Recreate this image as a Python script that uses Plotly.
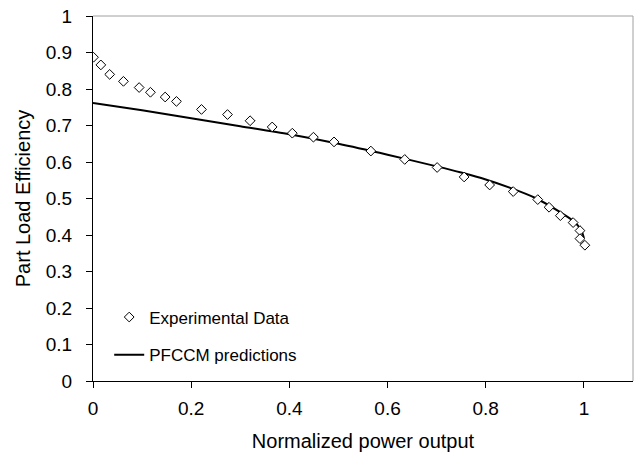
import plotly.graph_objects as go

# Experimental data (normalized power output, part load efficiency)
exp_x = [0.001, 0.016, 0.034, 0.062, 0.094, 0.117, 0.147, 0.170, 0.221, 0.274,
         0.320, 0.365, 0.406, 0.449, 0.491, 0.566, 0.635, 0.701, 0.756, 0.808,
         0.856, 0.906, 0.929, 0.952, 0.978, 0.992, 0.992, 1.002]
exp_y = [0.887, 0.866, 0.840, 0.821, 0.804, 0.791, 0.778, 0.766, 0.744, 0.730,
         0.713, 0.696, 0.679, 0.668, 0.655, 0.630, 0.607, 0.585, 0.559, 0.537,
         0.519, 0.497, 0.476, 0.453, 0.434, 0.412, 0.390, 0.372]

# PFCCM model predictions
pred_x = [0.0, 0.1, 0.2, 0.3, 0.4, 0.5, 0.6, 0.7, 0.75, 0.8, 0.85, 0.9, 0.95, 0.98, 0.995, 1.0]
pred_y = [0.762, 0.742, 0.720, 0.698, 0.676, 0.650, 0.620, 0.588, 0.571, 0.552, 0.529, 0.502, 0.464, 0.437, 0.412, 0.392]

x_ticks = [0, 0.2, 0.4, 0.6, 0.8, 1]
y_ticks = [0, 0.1, 0.2, 0.3, 0.4, 0.5, 0.6, 0.7, 0.8, 0.9, 1]

FONT = "Arial, Liberation Sans, sans-serif"

fig = go.Figure()
fig.add_trace(go.Scatter(
    x=pred_x, y=pred_y, mode="lines", name="PFCCM predictions",
    line=dict(color="black", width=2, shape="spline", smoothing=0.8),
    legend="legend2",
))
fig.add_trace(go.Scatter(
    x=exp_x, y=exp_y, mode="markers", name="Experimental Data",
    marker=dict(symbol="diamond", size=7.5, color="white",
                line=dict(color="black", width=1)),
    legend="legend",
))

fig.update_layout(
    width=635, height=456,
    margin=dict(l=93, r=2, t=16, b=75),
    paper_bgcolor="white", plot_bgcolor="white",
    font=dict(family=FONT, size=19, color="black"),
    showlegend=True,
    legend=dict(x=0.03, y=0.174, xanchor="left", yanchor="middle",
                bgcolor="rgba(0,0,0,0)", font=dict(size=17), itemwidth=30),
    legend2=dict(x=0.03, y=0.071, xanchor="left", yanchor="middle",
                 bgcolor="rgba(0,0,0,0)", font=dict(size=17), itemwidth=30),
    xaxis=dict(range=[0, 1.1], tickvals=x_ticks, ticktext=[str(v) for v in x_ticks],
               showgrid=False, zeroline=False, showline=True, linecolor="black",
               linewidth=1, ticks="outside", ticklen=6, tickcolor="black",
               ticklabelstandoff=4, tickfont=dict(size=19),
               title=dict(text="Normalized power output", font=dict(size=20), standoff=16)),
    yaxis=dict(range=[0, 1], tickvals=y_ticks, ticktext=[str(v) for v in y_ticks],
               showgrid=False, zeroline=False, showline=True, linecolor="black",
               linewidth=1, ticks="outside", ticklen=6, tickcolor="black",
               ticklabelstandoff=10, tickfont=dict(size=19),
               title=dict(text="Part Load Efficiency", font=dict(size=20), standoff=9)),
    shapes=[
        dict(type="line", xref="paper", yref="paper", x0=0, x1=1, y0=1, y1=1,
             line=dict(color="#a0a0a0", width=1)),
        dict(type="line", xref="paper", yref="paper", x0=1, x1=1, y0=0, y1=1,
             line=dict(color="#a0a0a0", width=1)),
    ],
)

fig.write_html("out.html")
